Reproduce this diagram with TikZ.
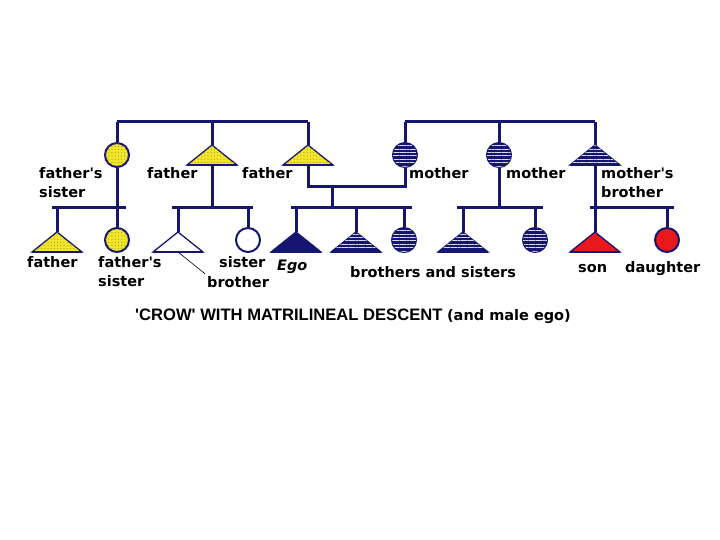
\documentclass[tikz,border=0pt]{standalone}
\usepackage{fontspec}
\setmainfont{DejaVu Sans}
\newfontfamily\labfont{DejaVu Sans}
\newfontfamily\arialfont{Liberation Sans}
\usetikzlibrary{patterns.meta,calc}
\definecolor{navy}{RGB}{22,22,112}
\definecolor{kyellow}{RGB}{242,230,40}
\definecolor{kred}{RGB}{232,24,28}
\definecolor{dotcol}{RGB}{150,140,60}
\tikzset{
  link/.style={draw=navy, line width=3pt},
  lbl/.style={anchor=base west, inner sep=0pt, align=left, font=\labfont\fontsize{14.5}{19}\selectfont\bfseries},
  yellowfill/.style={fill=kyellow, postaction={pattern={Dots[distance=3.2pt, radius=0.55pt]}, pattern color=dotcol}},
  navyfill/.style={fill=navy, postaction={pattern={Lines[angle=0, distance=3.4pt, line width=0.7pt]}, pattern color=white!85!navy}},
  person/.style={circle, draw=navy, line width=2pt, minimum size=24pt, inner sep=0pt},
  yc/.style={person, yellowfill},
  nc/.style={person, navyfill},
  wc/.style={person, fill=white},
  rc/.style={person, fill=kred},
  tri/.style={draw=navy, line width=1.3pt, line join=miter},
}
% \kintri{name}{x}{apex y}{style}
\newcommand\kintri[4]{%
  \coordinate (#1) at (#2,#3);
  \coordinate (#1b) at (#2,#3+20);
  \path[tri,#4] (#1) -- ++(-25,20) -- ++(50,0) -- cycle;
  \draw[navy, line width=2.8pt] ($(#1b)+(-25,0)$) -- ($(#1b)+(25,0)$);
}
\begin{document}
\begin{tikzpicture}[x=1pt,y=-1pt]
\useasboundingbox (0,0) rectangle (720,540);

% ---- coordinates for bars ----
\coordinate (tla) at (117,122);
\coordinate (tlb) at (308,122);
\coordinate (tra) at (405,122);
\coordinate (trb) at (595,122);
\coordinate (mida) at (212,122);
\coordinate (mmid) at (499,122);
\coordinate (mar1) at (308,187);
\coordinate (mar2) at (405,187);
\coordinate (mard) at (332,187);
\coordinate (mars) at (332,208);

% ---- top generation ----
\node[yc] (fs) at (117,155) {};
\kintri{fa}{212}{145}{yellowfill}
\kintri{fb}{308}{145}{yellowfill}
\node[nc] (ma) at (405,155) {};
\node[nc] (mb) at (499,155) {};
\kintri{mbro}{595}{145}{navyfill}

% ---- bottom generation ----
\kintri{c1}{57}{232}{yellowfill}
\node[yc] (c2) at (117,240) {};
\kintri{c3}{178}{232}{fill=white}
\node[wc] (c4) at (248,240) {};
\kintri{ego}{296}{232}{fill=navy}
\kintri{c6}{356}{232}{navyfill}
\node[nc] (c7) at (404,240) {};
\kintri{c8}{463}{232}{navyfill}
\node[nc] (c9) at (535,240) {};
\kintri{son}{595}{232}{fill=kred}
\node[rc] (dau) at (667,240) {};

% ---- connectors ----
\draw[link] (tla) -- (tlb);
\draw[link] (tra) -- (trb);
\draw[link] (tla) -- (fs.north);
\draw[link] (fs.south) -- (c2.north);
\draw[link] (52,208) -- (126,208);
\draw[link] (57,208) -- (c1);
\draw[link] (mida) -- (fa);
\draw[link] (fab) -- (212,208);
\draw[link] (172,208) -- (253,208);
\draw[link] (178,208) -- (c3);
\draw[link] (248,208) -- (c4.north);
\draw[link] (tlb) -- (fb);
\draw[link] (fbb) -- (mar1) -- (mar2) -- (ma.south);
\draw[link] (ma.north) -- (tra);
\draw[link] (mard) -- (mars);
\draw[link] (291,208) -- (412,208);
\draw[link] (296,208) -- (ego);
\draw[link] (356,208) -- (c6);
\draw[link] (404,208) -- (c7.north);
\draw[link] (mmid) -- (mb.north);
\draw[link] (mb.south) -- (499,208);
\draw[link] (457,208) -- (543,208);
\draw[link] (463,208) -- (c8);
\draw[link] (535,208) -- (c9.north);
\draw[link] (trb) -- (mbro);
\draw[link] (mbrob) -- (son);
\draw[link] (590,208) -- (674,208);
\draw[link] (667,208) -- (dau.north);

% ---- labels ----
\node[lbl] (l1) at (39,198) {father's\\sister};
\node[lbl] (l2) at (147,179) {father};
\node[lbl] (l3) at (242,179) {father};
\node[lbl] (l4) at (409,179) {mother};
\node[lbl] (l5) at (506,179) {mother};
\node[lbl] (l6) at (601,198) {mother's\\brother};
\node[lbl] (l7) at (27,267) {father};
\node[lbl] (l8) at (98,286) {father's\\sister};
\node[lbl] (l9) at (219,267) {sister};
\node[lbl] (l10) at (207,287) {brother};
\node[anchor=base west, inner sep=0pt, font=\labfont\fontsize{14.5}{19}\selectfont\bfseries\itshape] (l11) at (277,270) {Ego};
\node[lbl] (l12) at (350,277) {brothers and sisters};
\node[lbl] (l13) at (578,272) {son};
\node[lbl] (l14) at (625,272) {daughter};
\node[anchor=base west, inner sep=0pt] (title) at (135,320)
  {{\arialfont\fontsize{16.6}{19}\selectfont\bfseries 'CROW' WITH MATRILINEAL DESCENT }{\labfont\fontsize{14.5}{19}\selectfont\bfseries(and male ego)}};

% pointer from "brother" to the triangle
\draw[black, line width=0.6pt] (l10.north west) ++(-2,-2) -- (c3b);
\end{tikzpicture}
\end{document}
